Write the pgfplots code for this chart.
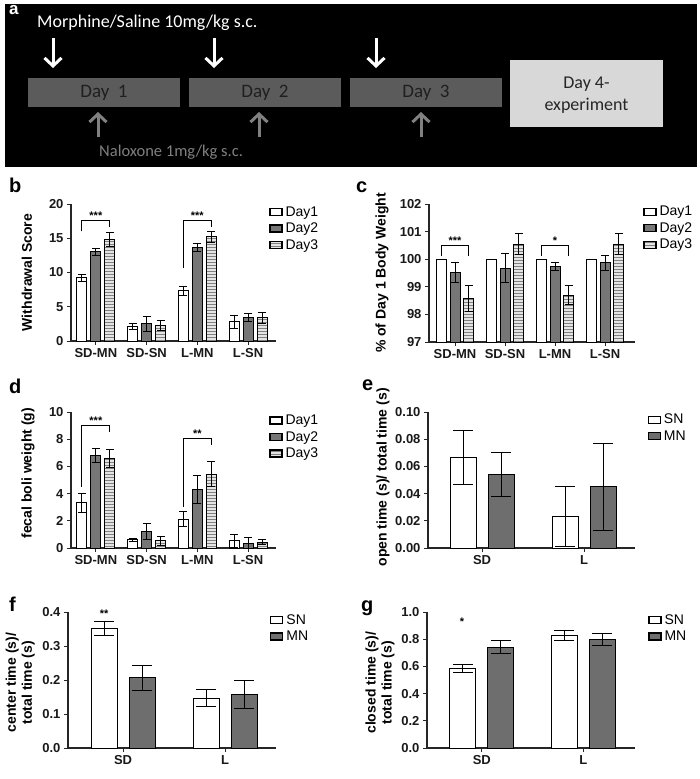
\documentclass[border=0pt]{standalone}
\usepackage{pgfplots}
\pgfplotsset{compat=1.18}
\usepackage{pgfplotstable}
\usepackage{fontspec}
\setmainfont{Liberation Sans}
\newfontfamily\calibri{Carlito}
\usetikzlibrary{arrows.meta}

\definecolor{boxdark}{HTML}{5B5B5B}
\definecolor{boxlight}{HTML}{D8D8D8}
\definecolor{naloxgrey}{HTML}{808080}
\definecolor{bargrey}{HTML}{767676}
\definecolor{mngrey}{HTML}{6E6E6E}
\definecolor{stripefill}{HTML}{E4E4E4}
\definecolor{stripeline}{HTML}{808080}

% withdrawal score (b)
\pgfplotstableread{
x  d1   e1    d2    e2    d3    e3
0  9.2  0.45  13.0  0.5   14.8  1.0
1  2.1  0.45  2.5   1.1   2.3   0.75
2  7.3  0.7   13.6  0.6   15.2  0.85
3  2.8  0.95  3.4   0.55  3.4   0.8
}\withdrawal
% body weight as % of day 1 (c)
\pgfplotstableread{
x  d1   d2     e2    d3     e3
0  100  99.52  0.35  98.58  0.48
1  100  99.68  0.53  100.55 0.39
2  100  99.73  0.15  98.70  0.35
3  100  99.87  0.28  100.55 0.37
}\bodyweight
% fecal boli weight (d)
\pgfplotstableread{
x  d1    e1    d2    e2    d3    e3
0  3.33  0.7   6.8   0.5   6.6   0.65
1  0.6   0.12  1.2   0.6   0.52  0.3
2  2.1   0.55  4.3   1.0   5.44  0.95
3  0.52  0.47  0.32  0.45  0.44  0.2
}\boli
% open arm time (e)
\pgfplotstableread{
x  sn      esn    mn      emn
0  0.0667  0.020  0.0542  0.016
1  0.0230  0.022  0.0450  0.032
}\openarm
% center time (f)
\pgfplotstableread{
x  sn     esn    mn     emn
0  0.351  0.021  0.207  0.037
1  0.147  0.026  0.158  0.041
}\centertime
% closed arm time (g)
\pgfplotstableread{
x  sn     esn    mn     emn
0  0.585  0.030  0.742  0.050
1  0.829  0.035  0.797  0.046
}\closedarm

\tikzset{
  bracket/.style={line width=1pt, black},
  stars/.style={font=\bfseries\fontsize{11}{11}\selectfont, anchor=base, inner sep=0pt, yshift=1pt},
  % horizontal hatching, laid from the top edge of the filled shape downwards
  % (basic-layer commands, so the lines do not pick up the style again)
  hstripes/.style={path picture={
    \pgfsetlinewidth{0.8pt}%
    \pgfsetstrokecolor{stripeline}%
    \foreach \k in {1,...,60}{%
      \pgfpathmoveto{\pgfpointadd{\pgfpointanchor{path picture bounding box}{north west}}{\pgfpoint{-2pt}{-3*\k pt+1.5pt}}}%
      \pgfpathlineto{\pgfpointadd{\pgfpointanchor{path picture bounding box}{north east}}{\pgfpoint{2pt}{-3*\k pt+1.5pt}}}%
    }%
    \pgfusepath{stroke}%
  }},
}
\pgfplotsset{
  panel/.style={
    scale only axis, axis lines=left, ybar, clip mode=individual,
    axis line style={-, line width=1.3pt, black!85},
    every tick/.style={line width=1pt, black!85},
    major tick length=4pt, tick align=outside,
    tick label style={font=\bfseries\fontsize{13}{13}\selectfont, text=black!90},
    /pgf/number format/assume math mode=true,
    label style={font=\bfseries\fontsize{14}{16}\selectfont},
    ylabel style={anchor=center, align=center},
    every axis plot/.append style={line width=1pt},
    error bars/y dir=both, error bars/y explicit,
    error bars/error bar style={line width=1pt, black},
    error bars/error mark options={line width=1pt, black, mark size=4pt, rotate=90},
    legend image code/.code={\draw[#1, line width=1.3pt] (0pt,-3.5pt) rectangle (12pt,3.5pt);},
    legend style={draw=none, fill=none, anchor=north west, inner sep=0pt,
      font=\fontsize{14}{14}\selectfont, row sep=4pt,
      nodes={inner sep=0.5pt, text height=10pt, text depth=1.5pt},
      /tikz/every odd column/.append style={column sep=2.5pt}},
    legend cell align=left,
  },
  wide/.style={error bars/error mark options={line width=1pt, black, mark size=10pt, rotate=90}},
  day1/.style={fill=white, draw=black},
  day2/.style={fill=bargrey, draw=black},
  day3/.style={fill=stripefill, draw=black, hstripes},
  sn/.style={fill=white, draw=black},
  mn/.style={fill=mngrey, draw=black},
}

\begin{document}
\begin{tikzpicture}
\useasboundingbox (0pt,0pt) rectangle (700pt,-779pt);

% protocol timeline
\begin{scope}[x=1pt,y=-1pt]
  \fill[black] (5,4) rectangle (697,167);
  \node[white, font=\bfseries\fontsize{17}{17}\selectfont, anchor=north west, inner sep=0pt] at (9,5) {a};
  \node[white, font=\calibri\fontsize{18}{18}\selectfont, anchor=west, inner sep=0pt] at (37,23) {Morphine/Saline 10mg/kg s.c.};
  \foreach \ax in {53,214,376}
    \draw[white, line width=3pt, -{Straight Barb[length=8pt,width=17pt,line width=3pt]}] (\ax,38) -- (\ax,68);
  \foreach \bx/\lab in {28/1,189/2,350/3} {
    \fill[boxdark] (\bx,78) rectangle ++(152,29);
    \node[text=black!88, font=\calibri\fontsize{19}{19}\selectfont] at (\bx+76,93) {Day~~\lab};
  }
  \fill[boxlight] (510,60) rectangle (663,127);
  \node[text=black!85, font=\calibri\fontsize{18}{22}\selectfont, align=center] at (586.5,95) {Day 4-\\experiment};
  \foreach \ax in {98,259,421}
    \draw[naloxgrey, line width=3pt, -{Straight Barb[length=8pt,width=17pt,line width=3pt]}] (\ax,137) -- (\ax,112);
  \node[naloxgrey, font=\calibri\fontsize{16.5}{16.5}\selectfont, anchor=west, inner sep=0pt] at (99,152) {Naloxone 1mg/kg s.c.};
\end{scope}

% panel letters
\begin{scope}[font=\bfseries\fontsize{20}{20}\selectfont, inner sep=0pt, anchor=base west]
  \node at (9pt,-192pt) {b};
  \node at (356pt,-192pt) {c};
  \node at (9pt,-393pt) {d};
  \node at (362pt,-390pt) {e};
  \node at (9pt,-611pt) {f};
  \node at (361pt,-611pt) {g};
\end{scope}

% b: withdrawal score
\begin{axis}[panel, at={(71pt,-341pt)}, anchor=south west,
  width=205pt, height=137pt, xmin=-0.49, xmax=3.55, ymin=0, ymax=20,
  ytick={0,5,10,15,20}, xtick={0,1,2,3}, xticklabels={SD-MN,SD-SN,L-MN,L-SN},
  bar width=10pt,
  ylabel={Withdrawal Score}, ylabel style={at={(axis description cs:-0.215,0.5)}},
  legend style={at={(axis description cs:0.966,0.989)}}]
\addplot[day1, bar shift=-14pt] table[x=x, y=d1, y error=e1] {\withdrawal};
\addplot[day2, bar shift=0pt] table[x=x, y=d2, y error=e2] {\withdrawal};
\addplot[day3, bar shift=14pt] table[x=x, y=d3, y error=e3] {\withdrawal};
\legend{Day1,Day2,Day3}
\draw[bracket] (axis cs:-0.276,16.0) |- (axis cs:0.276,17.6) -- (axis cs:0.276,16.7);
\node[stars] at (axis cs:0,17.6) {***};
\draw[bracket] (axis cs:1.724,10.6) |- (axis cs:2.276,17.6) -- (axis cs:2.276,16.7);
\node[stars] at (axis cs:2,17.6) {***};
\end{axis}

% c: body weight
\begin{axis}[panel, at={(429pt,-342pt)}, anchor=south west,
  width=206pt, height=138pt, xmin=-0.52, xmax=3.6, ymin=97, ymax=102,
  ytick={97,98,...,102}, xtick={0,1,2,3}, xticklabels={SD-MN,SD-SN,L-MN,L-SN},
  bar width=10pt,
  ylabel={\% of Day 1 Body Weight}, ylabel style={at={(axis description cs:-0.228,0.5)}},
  legend style={at={(axis description cs:1.039,0.991)}}]
\addplot[day1, bar shift=-13.5pt, error bars/y dir=none] table[x=x, y=d1] {\bodyweight};
\addplot[day2, bar shift=0pt] table[x=x, y=d2, y error=e2] {\bodyweight};
\addplot[day3, bar shift=13.5pt] table[x=x, y=d3, y error=e3] {\bodyweight};
\legend{Day1,Day2,Day3}
\draw[bracket] (axis cs:-0.27,100.12) |- (axis cs:0.27,100.48) -- (axis cs:0.27,100.12);
\node[stars] at (axis cs:0,100.48) {***};
\draw[bracket] (axis cs:1.73,100.12) |- (axis cs:2.27,100.48) -- (axis cs:2.27,100.12);
\node[stars] at (axis cs:2,100.48) {*};
\end{axis}

% d: fecal boli
\begin{axis}[panel, at={(71pt,-548pt)}, anchor=south west,
  width=205pt, height=136pt, xmin=-0.49, xmax=3.55, ymin=0, ymax=10,
  ytick={0,2,...,10}, xtick={0,1,2,3}, xticklabels={SD-MN,SD-SN,L-MN,L-SN},
  bar width=10pt,
  ylabel={fecal boli weight (g)}, ylabel style={at={(axis description cs:-0.21,0.55)}},
  legend style={at={(axis description cs:0.966,0.984)}}]
\addplot[day1, bar shift=-14pt] table[x=x, y=d1, y error=e1] {\boli};
\addplot[day2, bar shift=0pt] table[x=x, y=d2, y error=e2] {\boli};
\addplot[day3, bar shift=14pt] table[x=x, y=d3, y error=e3] {\boli};
\legend{Day1,Day2,Day3}
\draw[bracket] (axis cs:-0.276,4.5) |- (axis cs:0.276,9.04) -- (axis cs:0.276,8.55);
\node[stars] at (axis cs:0,9.04) {***};
\draw[bracket] (axis cs:1.724,3.04) |- (axis cs:2.276,8.07) -- (axis cs:2.276,7.57);
\node[stars] at (axis cs:2,8.07) {**};
\end{axis}

% e: open arm time
\begin{axis}[panel, wide, at={(428pt,-548pt)}, anchor=south west,
  width=207pt, height=136pt, xmin=-0.53, xmax=1.5, ymin=0, ymax=0.1,
  ytick={0,0.02,...,0.1}, scaled y ticks=false,
  yticklabel style={/pgf/number format/.cd, fixed, fixed zerofill, precision=2},
  xtick={0,1}, xticklabels={SD,L},
  bar width=26pt,
  ylabel={open time (s)/ total time (s)}, ylabel style={at={(axis description cs:-0.217,0.52)}},
  legend style={at={(axis description cs:1.06,0.991)}}]
\addplot[sn, bar shift=-19pt] table[x=x, y=sn, y error=esn] {\openarm};
\addplot[mn, bar shift=19pt] table[x=x, y=mn, y error=emn] {\openarm};
\legend{SN,MN}
\end{axis}

% f: center time
\begin{axis}[panel, wide, at={(68pt,-748pt)}, anchor=south west,
  width=208pt, height=136pt, xmin=-0.54, xmax=1.5, ymin=0, ymax=0.4,
  ytick={0,0.1,...,0.4}, scaled y ticks=false,
  yticklabel style={/pgf/number format/.cd, fixed, fixed zerofill, precision=1},
  xtick={0,1}, xticklabels={SD,L},
  bar width=26pt,
  ylabel={center time (s)/\\total time (s)}, ylabel style={at={(axis description cs:-0.23,0.48)}},
  legend style={at={(axis description cs:0.971,0.989)}}]
\addplot[sn, bar shift=-19pt] table[x=x, y=sn, y error=esn] {\centertime};
\addplot[mn, bar shift=19pt] table[x=x, y=mn, y error=emn] {\centertime};
\legend{SN,MN}
\node[stars] at (axis cs:-0.186,0.382) {**};
\end{axis}

% g: closed arm time
\begin{axis}[panel, wide, at={(427pt,-748pt)}, anchor=south west,
  width=208pt, height=136pt, xmin=-0.54, xmax=1.51, ymin=0, ymax=1,
  ytick={0,0.2,...,1.0}, scaled y ticks=false,
  yticklabel style={/pgf/number format/.cd, fixed, fixed zerofill, precision=1},
  xtick={0,1}, xticklabels={SD,L},
  bar width=26pt,
  ylabel={closed time (s)/\\total time (s)}, ylabel style={at={(axis description cs:-0.226,0.48)}},
  legend style={at={(axis description cs:1.0625,0.989)}}]
\addplot[sn, bar shift=-19pt] table[x=x, y=sn, y error=esn] {\closedarm};
\addplot[mn, bar shift=19pt] table[x=x, y=mn, y error=emn] {\closedarm};
\legend{SN,MN}
\node[stars] at (axis cs:-0.196,0.895) {*};
\end{axis}
\end{tikzpicture}
\end{document}
